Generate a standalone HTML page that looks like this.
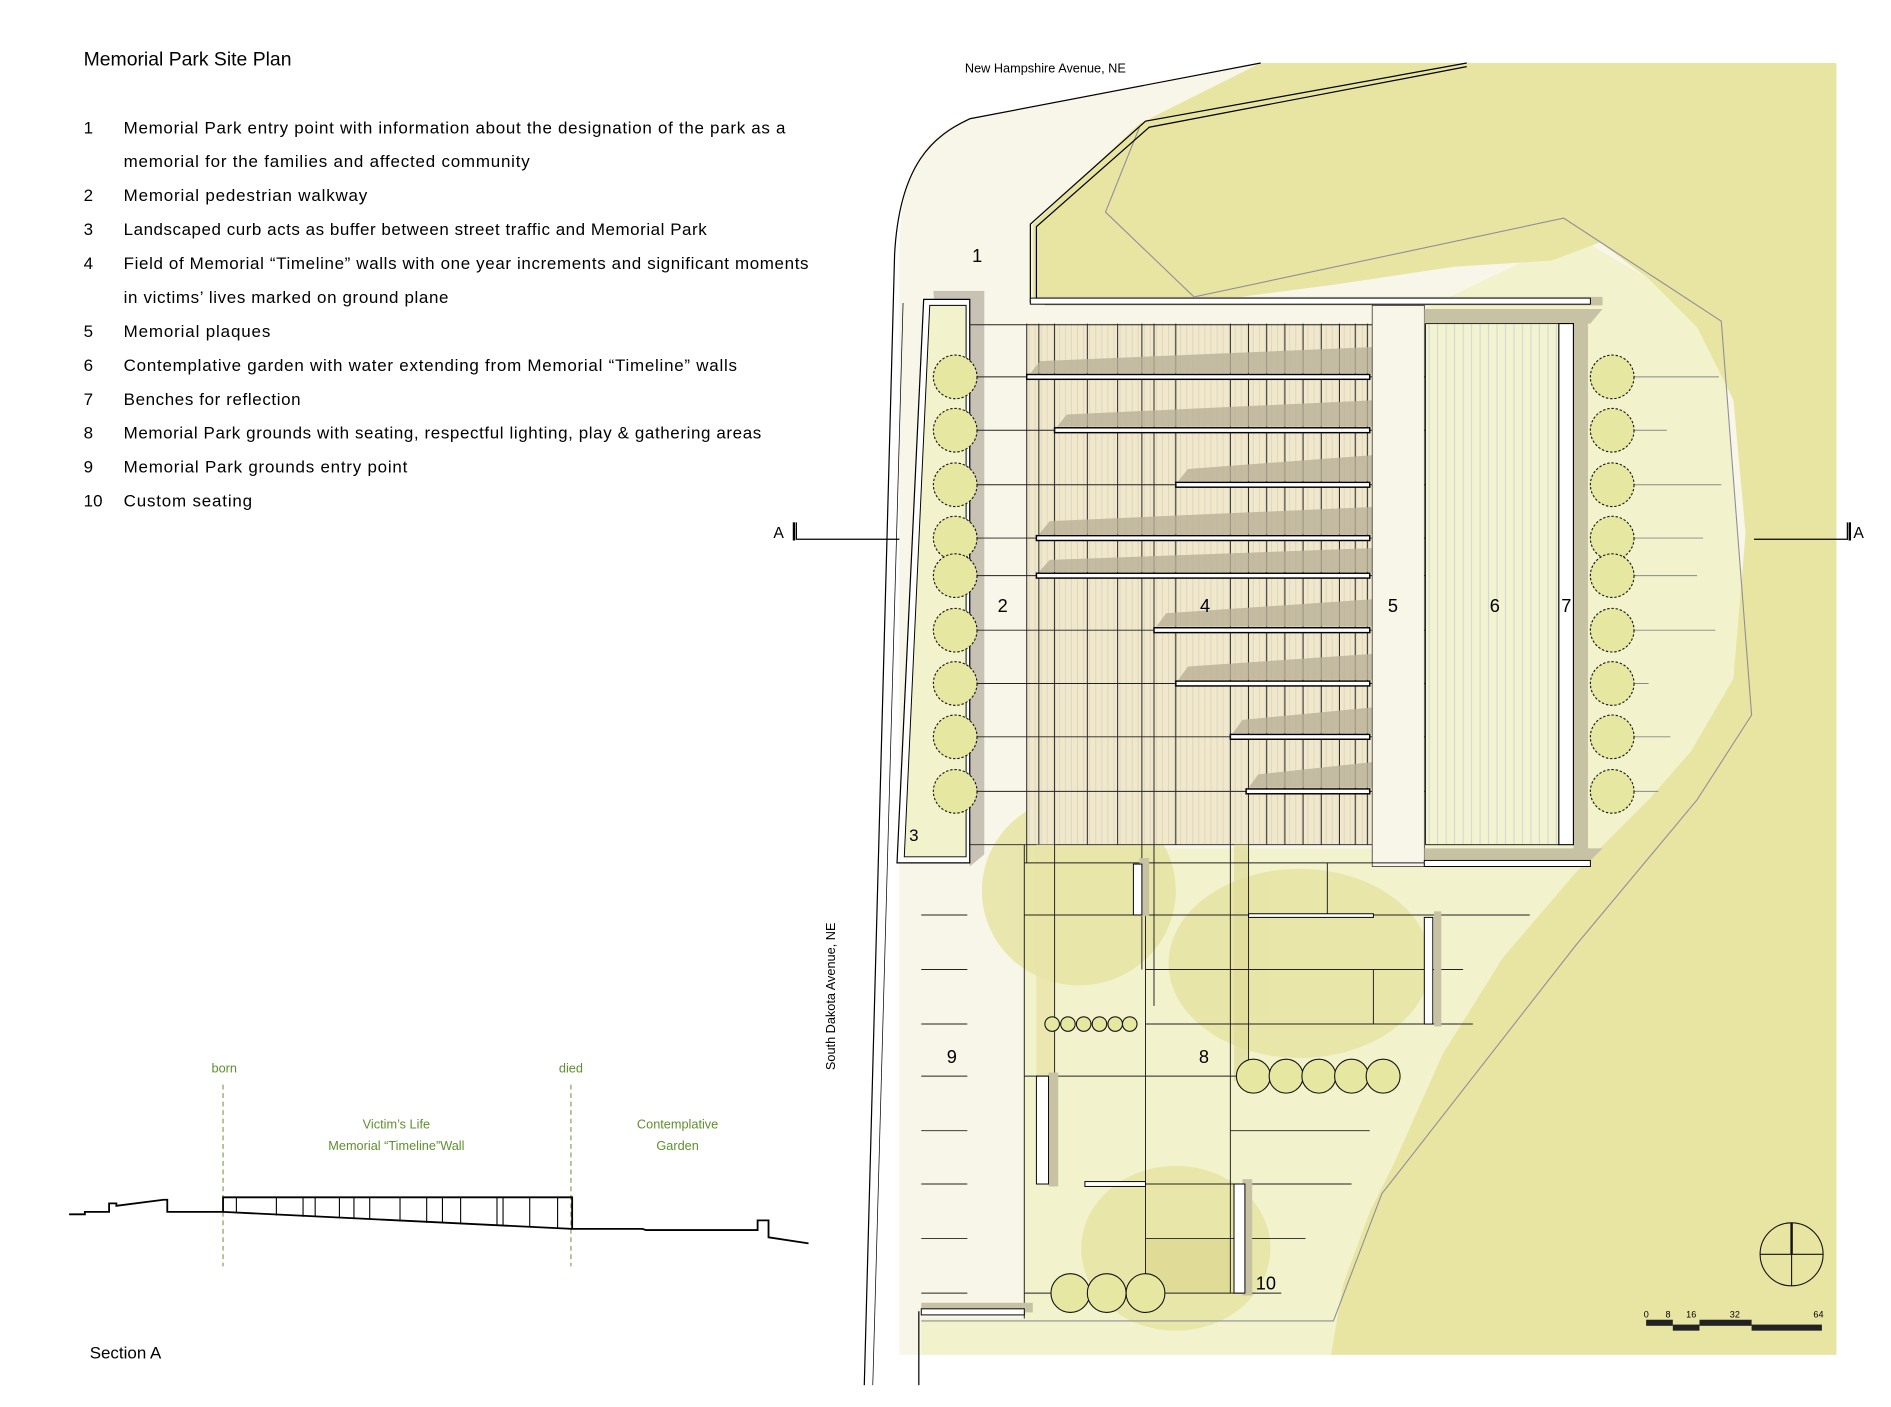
<!DOCTYPE html>
<html><head><meta charset="utf-8"><style>
html,body{margin:0;padding:0;background:#fff;}
svg{display:block;}
text{font-family:"Liberation Sans",sans-serif;}
</style></head><body>
<svg width="1891" height="1407" viewBox="0 0 1560 1161" preserveAspectRatio="none" xmlns="http://www.w3.org/2000/svg">
<defs>
<pattern id="hatch" x="847" y="0" width="5" height="10" patternUnits="userSpaceOnUse">
<rect width="5" height="10" fill="#f1e7c9"/><line x1="2" y1="0" x2="2" y2="10" stroke="#d4d2cc" stroke-width="0.6"/></pattern>
<pattern id="hatch6" x="1176" y="0" width="7" height="10" patternUnits="userSpaceOnUse">
<rect width="7" height="10" fill="#f2f3d0"/><line x1="3" y1="0" x2="3" y2="10" stroke="#cfd0d4" stroke-width="0.7"/></pattern>
</defs>

<!-- base cream -->
<path d="M742,1118 L742,200 C744,130 770,108 800,98 L1040,52 L1515,52 L1515,1118 Z" fill="#f8f6e8"/>
<!-- light green -->
<path d="M760,1118 L760,1088 L845,1088 L845,700 L1175,700 L1175,255 L1300,195 L1420,265 L1445,590 L1400,660 L1300,780 L1140,985 L1100,1118 Z" fill="#f2f2cd"/>
<!-- dark green -->
<path d="M852,248 L852,185 L940,102 L1040,52 L1515,52 L1515,1118 L1098,1118 L1108,1060 L1130,1000 L1150,960 L1190,870 L1240,790 L1300,720 L1360,660 L1395,620 L1430,560 L1440,440 L1430,330 L1400,270 L1360,230 L1320,200 L1280,215 L1200,220 L1100,235 L1000,248 Z" fill="#e8e5a3"/>
<!-- tree blobs -->
<g fill="#e4e19b" opacity="0.75">
<ellipse cx="890" cy="735" rx="80" ry="78"/>
<ellipse cx="1072" cy="795" rx="108" ry="78"/>
<ellipse cx="970" cy="1030" rx="78" ry="68"/>
</g>

<!-- roads -->
<path d="M713,1143 L738,210 C742,135 770,112 800,98 L1040,52" fill="none" stroke="#000" stroke-width="1"/>
<path d="M758,1143 L758,1082" fill="none" stroke="#000" stroke-width="1"/>
<path d="M720,1143 L745,250" fill="none" stroke="#000" stroke-width="0.6"/>
<text x="796" y="60" font-size="10.5">New Hampshire Avenue, NE</text>
<text transform="translate(689,883) rotate(-90)" font-size="10.5">South Dakota Avenue, NE</text>

<!-- property line -->
<path d="M760,1090 L1100,1090 L1140,985 L1300,780 L1400,660 L1445,590 L1420,265 L1290,180 L985,245 L912,175 L940,105" fill="none" stroke="#8f8f98" stroke-width="0.9"/>

<!-- north wall -->
<path d="M855,245 L1322,245 L1322,252 L862,252 Z" fill="#c8c2a4"/>
<path d="M850,250 L850,185 L945,100 L1210,52" fill="none" stroke="#000" stroke-width="1"/>
<path d="M855,246 L855,187 L948,105 L1210,55" fill="none" stroke="#000" stroke-width="1"/>
<rect x="850" y="246" width="462" height="5" fill="#fff" stroke="#000" stroke-width="0.8"/>

<!-- curb box 3 -->
<path d="M770,240 L812,240 L812,705 L800,715 Z" fill="#c8c2b4"/>
<path d="M762,247 L800,247 L800,712 L740,712 Z" fill="#fff" stroke="#000" stroke-width="1"/>
<path d="M767,252 L797,252 L797,707 L746,707 Z" fill="#f2f3cd" stroke="#000" stroke-width="0.8"/>
<text x="750" y="694" font-size="14">3</text>

<!-- timeline field -->
<rect x="847" y="267" width="285" height="430" fill="url(#hatch)"/>
<g stroke="#222" stroke-width="0.8">
<line x1="847" y1="267" x2="847" y2="712"/><line x1="857" y1="267" x2="857" y2="697"/>
<line x1="870" y1="267" x2="870" y2="697"/><line x1="897" y1="267" x2="897" y2="697"/>
<line x1="922" y1="267" x2="922" y2="697"/><line x1="942" y1="267" x2="942" y2="697"/>
<line x1="952" y1="267" x2="952" y2="697"/><line x1="970" y1="267" x2="970" y2="697"/>
<line x1="1015" y1="267" x2="1015" y2="697"/><line x1="1030" y1="267" x2="1030" y2="697"/>
<line x1="1045" y1="267" x2="1045" y2="697"/><line x1="1060" y1="267" x2="1060" y2="697"/>
<line x1="1075" y1="267" x2="1075" y2="697"/><line x1="1090" y1="267" x2="1090" y2="697"/>
<line x1="1105" y1="267" x2="1105" y2="697"/><line x1="1118" y1="267" x2="1118" y2="697"/>
<line x1="1128" y1="267" x2="1128" y2="697"/>
</g>
<!-- shadows -->
<g fill="#b9b197" opacity="0.8">
<polygon points="850,308 858,298 1142,286 1132,308"/>
<polygon points="872,352 880,342 1140,330 1132,352"/>
<polygon points="972,397 980,387 1140,375 1132,397"/>
<polygon points="857,441 866,430 1140,418 1132,441"/>
<polygon points="857,472 866,462 1140,452 1132,472"/>
<polygon points="954,517 962,506 1140,494 1132,517"/>
<polygon points="972,561 980,550 1140,539 1132,561"/>
<polygon points="1017,605 1025,594 1140,583 1132,605"/>
<polygon points="1030,650 1038,639 1140,628 1132,650"/>
</g>
<!-- horizontal lines across -->
<g stroke="#222" stroke-width="0.8">
<line x1="800" y1="268" x2="1132" y2="268"/>
<line x1="800" y1="697" x2="1175" y2="697"/>
<line x1="805" y1="311" x2="1300" y2="311"/><line x1="805" y1="355" x2="1300" y2="355"/>
<line x1="805" y1="400" x2="1300" y2="400"/><line x1="805" y1="444" x2="1300" y2="444"/>
<line x1="805" y1="475" x2="1300" y2="475"/><line x1="805" y1="520" x2="1300" y2="520"/>
<line x1="805" y1="564" x2="1300" y2="564"/><line x1="805" y1="608" x2="1300" y2="608"/>
<line x1="805" y1="653" x2="1300" y2="653"/>
</g>
<g stroke="#888" stroke-width="0.8">
<line x1="1345" y1="311" x2="1418" y2="311"/><line x1="1345" y1="355" x2="1375" y2="355"/>
<line x1="1345" y1="400" x2="1420" y2="400"/><line x1="1345" y1="444" x2="1405" y2="444"/>
<line x1="1345" y1="475" x2="1400" y2="475"/><line x1="1345" y1="520" x2="1415" y2="520"/>
<line x1="1345" y1="564" x2="1360" y2="564"/><line x1="1345" y1="608" x2="1378" y2="608"/>
<line x1="1345" y1="653" x2="1368" y2="653"/>
</g>
<!-- walls -->
<g fill="#fff" stroke="#000" stroke-width="1.2">
<rect x="847" y="309" width="283" height="4"/>
<rect x="870" y="353" width="260" height="4"/>
<rect x="970" y="398" width="160" height="4"/>
<rect x="855" y="442" width="275" height="4"/>
<rect x="855" y="473" width="275" height="4"/>
<rect x="952" y="518" width="178" height="4"/>
<rect x="970" y="562" width="160" height="4"/>
<rect x="1015" y="606" width="115" height="4"/>
<rect x="1028" y="651" width="102" height="4"/>
</g>

<!-- column 5 -->
<rect x="1132" y="252" width="43" height="463" fill="#f8f6e8" stroke="#222" stroke-width="0.6"/>
<!-- column 6 -->
<path d="M1175,255 L1322,255 L1312,267 L1175,267 Z" fill="#c8c2a4"/>
<rect x="1176" y="267" width="110" height="430" fill="url(#hatch6)" stroke="#222" stroke-width="0.8"/>
<rect x="1298" y="262" width="12" height="442" fill="#c8c2a4"/>
<rect x="1286" y="267" width="12" height="430" fill="#fff" stroke="#000" stroke-width="0.9"/>
<path d="M1175,700 L1322,700 L1312,710 L1175,710 Z" fill="#c8c2a4"/>
<rect x="1175" y="710" width="137" height="5" fill="#fff" stroke="#000" stroke-width="0.8"/>

<!-- trees -->
<g fill="#e6e8a2" stroke="#111" stroke-width="0.9" stroke-dasharray="2,1.5">
<circle cx="788" cy="311" r="18"/><circle cx="788" cy="355" r="18"/><circle cx="788" cy="400" r="18"/>
<circle cx="788" cy="444" r="18"/><circle cx="788" cy="475" r="18"/><circle cx="788" cy="520" r="18"/>
<circle cx="788" cy="564" r="18"/><circle cx="788" cy="608" r="18"/><circle cx="788" cy="653" r="18"/>
<circle cx="1330" cy="311" r="18"/><circle cx="1330" cy="355" r="18"/><circle cx="1330" cy="400" r="18"/>
<circle cx="1330" cy="444" r="18"/><circle cx="1330" cy="475" r="18"/><circle cx="1330" cy="520" r="18"/>
<circle cx="1330" cy="564" r="18"/><circle cx="1330" cy="608" r="18"/><circle cx="1330" cy="653" r="18"/>
</g>

<!-- lower grounds -->
<rect x="855" y="697" width="15" height="195" fill="#e8e3a8" opacity="0.8"/>
<rect x="1018" y="697" width="12" height="195" fill="#e0dc98" opacity="0.7"/>
<rect x="945" y="1022" width="70" height="45" fill="#e0dc98"/>
<g stroke="#222" stroke-width="0.8" fill="none">
<line x1="845" y1="697" x2="845" y2="1088"/>
<line x1="870" y1="697" x2="870" y2="890"/>
<line x1="942" y1="697" x2="942" y2="800"/>
<line x1="952" y1="697" x2="952" y2="830"/>
<line x1="1015" y1="697" x2="1015" y2="1067"/>
<line x1="1030" y1="697" x2="1030" y2="890"/>
<line x1="945" y1="755" x2="945" y2="1067"/>
<line x1="1095" y1="712" x2="1095" y2="755"/>
<line x1="1133" y1="800" x2="1133" y2="845"/>
<line x1="845" y1="712" x2="1175" y2="712"/>
<line x1="845" y1="755" x2="1262" y2="755"/>
<line x1="945" y1="800" x2="1207" y2="800"/>
<line x1="945" y1="845" x2="1215" y2="845"/>
<line x1="845" y1="888" x2="1130" y2="888"/>
<line x1="1015" y1="933" x2="1130" y2="933"/>
<line x1="895" y1="977" x2="1115" y2="977"/>
<line x1="945" y1="1022" x2="1077" y2="1022"/>
<line x1="845" y1="1067" x2="1057" y2="1067"/>
<line x1="760" y1="755" x2="798" y2="755"/><line x1="760" y1="800" x2="798" y2="800"/>
<line x1="760" y1="845" x2="798" y2="845"/><line x1="760" y1="888" x2="798" y2="888"/>
<line x1="760" y1="933" x2="798" y2="933"/><line x1="760" y1="977" x2="798" y2="977"/>
<line x1="760" y1="1022" x2="798" y2="1022"/><line x1="760" y1="1067" x2="798" y2="1067"/>
</g>
<!-- benches -->
<g fill="#c8c2a4">
<rect x="940" y="708" width="8" height="48"/><rect x="1183" y="752" width="6" height="95"/>
<rect x="865" y="885" width="8" height="94"/><rect x="1025" y="973" width="8" height="96"/>
<rect x="760" y="1075" width="92" height="8"/>
</g>
<g fill="#fff" stroke="#000" stroke-width="0.8">
<rect x="935" y="713" width="7" height="42"/>
<rect x="1030" y="754" width="103" height="3"/>
<rect x="1175" y="757" width="7" height="88"/>
<rect x="855" y="888" width="10" height="89"/>
<rect x="895" y="975" width="50" height="4"/>
<rect x="1018" y="977" width="9" height="90"/>
<rect x="760" y="1080" width="85" height="5"/>
</g>
<g fill="#e6e8a2" stroke="#111" stroke-width="0.9">
<circle cx="868" cy="845" r="6"/><circle cx="881" cy="845" r="6"/><circle cx="894" cy="845" r="6"/>
<circle cx="907" cy="845" r="6"/><circle cx="920" cy="845" r="6"/><circle cx="932" cy="845" r="6"/>
<circle cx="1034" cy="888" r="14"/><circle cx="1061" cy="888" r="14"/><circle cx="1088" cy="888" r="14"/>
<circle cx="1115" cy="888" r="14"/><circle cx="1141" cy="888" r="14"/>
<circle cx="883" cy="1067" r="16"/><circle cx="913" cy="1067" r="16"/><circle cx="945" cy="1067" r="16"/>
</g>

<!-- numbers -->
<g font-size="15" font-family="Liberation Serif, serif">
<text x="802" y="216">1</text><text x="823" y="505">2</text><text x="990" y="505">4</text>
<text x="1145" y="505">5</text><text x="1229" y="505">6</text><text x="1288" y="505">7</text>
<text x="781" y="877">9</text><text x="989" y="877">8</text><text x="1036" y="1064">10</text>
</g>

<!-- section markers -->
<text x="638" y="444" font-size="13">A</text>
<path d="M657,431 L657,445 L742,445" fill="none" stroke="#000" stroke-width="1"/>
<line x1="655" y1="431" x2="655" y2="446" stroke="#000" stroke-width="2"/>
<text x="1529" y="444" font-size="13">A</text>
<path d="M1447,445 L1524,445 L1524,431" fill="none" stroke="#000" stroke-width="1"/>
<line x1="1526" y1="431" x2="1526" y2="446" stroke="#000" stroke-width="2"/>

<!-- north arrow & scale -->
<circle cx="1478" cy="1035" r="26" fill="none" stroke="#111" stroke-width="0.9"/>
<line x1="1452" y1="1035" x2="1504" y2="1035" stroke="#111" stroke-width="0.9"/>
<line x1="1478" y1="1009" x2="1478" y2="1061" stroke="#111" stroke-width="0.9"/>
<line x1="1478" y1="1009" x2="1478" y2="1035" stroke="#111" stroke-width="2"/>
<g fill="#222">
<rect x="1358" y="1089" width="22" height="5"/><rect x="1380" y="1093" width="22" height="5"/>
<rect x="1402" y="1089" width="43" height="5"/><rect x="1445" y="1093" width="58" height="5"/>
</g>
<g font-size="7.5"><text x="1356" y="1087">0</text><text x="1374" y="1087">8</text><text x="1391" y="1087">16</text><text x="1427" y="1087">32</text><text x="1496" y="1087">64</text></g>

<!-- text panel -->
<text x="69" y="54" font-size="16">Memorial Park Site Plan</text>
<g font-size="14">
<text x="69" y="110">1</text><text x="102" y="110" textLength="546">Memorial Park entry point with information about the designation of the park as a</text>
<text x="102" y="138" textLength="335">memorial for the families and affected community</text>
<text x="69" y="166">2</text><text x="102" y="166" textLength="201">Memorial pedestrian walkway</text>
<text x="69" y="194">3</text><text x="102" y="194" textLength="481">Landscaped curb acts as buffer between street traffic and Memorial Park</text>
<text x="69" y="222">4</text><text x="102" y="222" textLength="565">Field of Memorial “Timeline” walls with one year increments and significant moments</text>
<text x="102" y="250" textLength="268">in victims’ lives marked on ground plane</text>
<text x="69" y="278">5</text><text x="102" y="278" textLength="121">Memorial plaques</text>
<text x="69" y="306">6</text><text x="102" y="306" textLength="506">Contemplative garden with water extending from Memorial “Timeline” walls</text>
<text x="69" y="334">7</text><text x="102" y="334" textLength="146">Benches for reflection</text>
<text x="69" y="362">8</text><text x="102" y="362" textLength="526">Memorial Park grounds with seating, respectful lighting, play &amp; gathering areas</text>
<text x="69" y="390">9</text><text x="102" y="390" textLength="234">Memorial Park grounds entry point</text>
<text x="69" y="418">10</text><text x="102" y="418" textLength="106">Custom seating</text>
</g>

<!-- section A -->
<g fill="#5f8f2f" font-size="10.5" text-anchor="middle">
<text x="185" y="885">born</text><text x="471" y="885">died</text>
<text x="327" y="931">Victim’s Life</text><text x="327" y="949">Memorial “Timeline”Wall</text>
<text x="559" y="931">Contemplative</text><text x="559" y="949">Garden</text>
</g>
<g stroke="#5f8f2f" stroke-width="0.8" stroke-dasharray="4,3">
<line x1="184" y1="895" x2="184" y2="1045"/><line x1="471" y1="895" x2="471" y2="1045"/>
</g>
<path d="M57,1002 L70,1002 L70,1000 L90,1000 L90,993 L96,993 L96,995 L135,990 L138,990 L138,1000 L184,1000 L184,988 L472,988 L472,1014 L530,1014 L533,1015 L625,1015 L625,1007 L634,1007 L634,1021 L667,1026" fill="none" stroke="#000" stroke-width="1.5"/>
<path d="M184,1000 L472,1014" fill="none" stroke="#000" stroke-width="1.5"/>
<g stroke="#000" stroke-width="0.9">
<line x1="195" y1="988" x2="195" y2="1001"/><line x1="228" y1="988" x2="228" y2="1003"/>
<line x1="250" y1="988" x2="250" y2="1004"/><line x1="260" y1="988" x2="260" y2="1004"/>
<line x1="280" y1="988" x2="280" y2="1005"/><line x1="292" y1="988" x2="292" y2="1006"/>
<line x1="305" y1="988" x2="305" y2="1006"/><line x1="330" y1="988" x2="330" y2="1008"/>
<line x1="352" y1="988" x2="352" y2="1009"/><line x1="365" y1="988" x2="365" y2="1009"/>
<line x1="380" y1="988" x2="380" y2="1010"/><line x1="410" y1="988" x2="410" y2="1011"/>
<line x1="415" y1="988" x2="415" y2="1011"/><line x1="437" y1="988" x2="437" y2="1012"/>
<line x1="460" y1="988" x2="460" y2="1013"/>
</g>
<text x="74" y="1121" font-size="14">Section A</text>
</svg>
</body></html>
